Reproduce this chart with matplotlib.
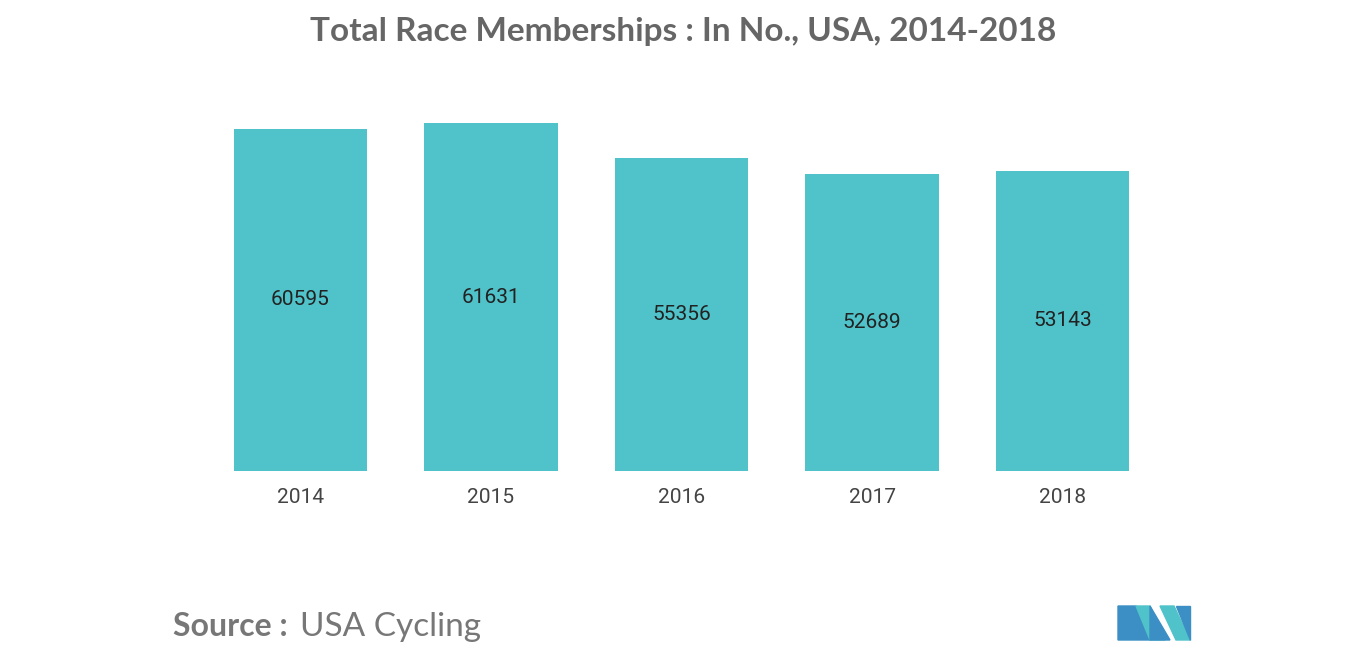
import matplotlib
matplotlib.use("Agg")
from matplotlib import pyplot as plt
from matplotlib.patches import Polygon

years = ['2014', '2015', '2016', '2017', '2018']
members = [60595, 61631, 55356, 52689, 53143]

W, H = 1366, 655
fig = plt.figure(figsize=(W/100, H/100), dpi=100)
# axes placed in pixel terms
ax = fig.add_axes([205/W, 1-471/H, (1158-205)/W, (471-104)/H])
bars = ax.bar(range(len(years)), members, width=0.7, color='#4fc3c9')
ax.set_xlim(-0.5, 4.5)
ax.set_ylim(0, 65000)
for i, v in enumerate(members):
    ax.text(i, v/2, str(v), ha='center', va='center', fontsize=15,
            family='Roboto', color='#222222')
ax.set_xticks(range(len(years)))
ax.set_xticklabels(years, family='Roboto', fontsize=15, color='#444444')
ax.tick_params(axis='x', length=0, pad=12)
ax.set_yticks([])
for s in ax.spines.values():
    s.set_visible(False)

fig.text(683/W, 1-32/H, 'Total Race Memberships : In No., USA, 2014-2018',
         ha='center', va='center', fontsize=24, family='Lato',
         weight='bold', color='#666666')
fig.text(173/W, 1-627/H, 'Source :', ha='left', va='center', fontsize=23,
         family='Lato', weight='bold', color='#777777')
fig.text(300/W, 1-627/H, 'USA Cycling', ha='left', va='center', fontsize=24,
         family='Lato', color='#777777')

# logo
def px(pts):
    return [(x/W, 1-y/H) for x, y in pts]
logo = [
    ([(1118, 640), (1118, 606), (1136, 606), (1150, 640)], '#3b8fc4'),
    ([(1136, 606), (1150, 606), (1165, 640), (1150, 640)], '#4fc3c9'),
    ([(1150, 640), (1150, 606), (1170, 640)], '#3b8fc4'),
    ([(1160, 606), (1174, 606), (1190, 640), (1176, 640)], '#4fc3c9'),
    ([(1176, 606), (1190, 606), (1190, 640)], '#3b8fc4'),
]
for pts, c in logo:
    fig.patches.append(Polygon(px(pts), closed=True, color=c,
                               transform=fig.transFigure))

fig.savefig('out.png', dpi=100)
